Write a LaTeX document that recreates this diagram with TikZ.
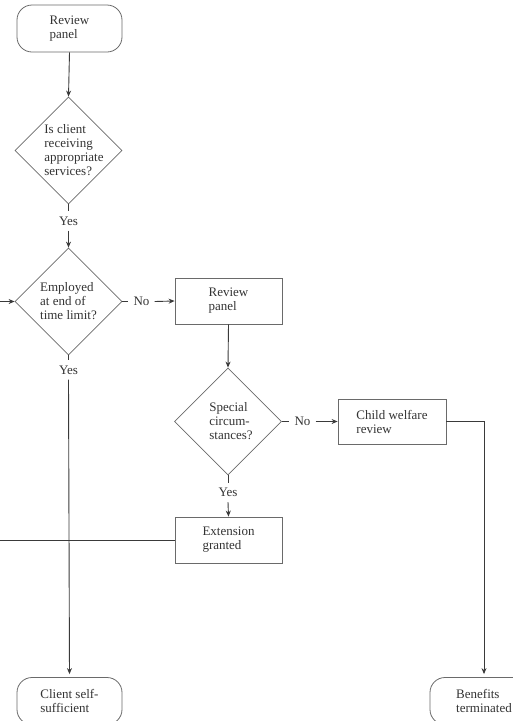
\documentclass[tikz,border=0pt]{standalone}
\usepackage{fontspec}
\setmainfont{Liberation Serif}
\usetikzlibrary{shapes.geometric,arrows.meta}
\definecolor{ln}{HTML}{6A6A6A}
\definecolor{ar}{HTML}{3A3A3A}
\definecolor{txt}{HTML}{333333}
\begin{document}
\begin{tikzpicture}[x=1pt,y=-1pt,
  every node/.style={font=\fontsize{13}{14}\selectfont, text=txt},
  term/.style={draw=ln, line width=0.8pt, rounded corners=15pt, minimum width=105pt, minimum height=47pt, align=left, inner sep=0pt},
  proc/.style={draw=ln, line width=0.8pt, minimum width=107pt, minimum height=46pt, align=left, inner sep=0pt},
  dia/.style={draw=ln, line width=0.8pt, diamond, minimum width=107pt, minimum height=107pt, inner sep=0pt},
  dtext/.style={align=left, inner sep=0pt},
  lbl/.style={inner xsep=5pt, inner ysep=5pt},
  arr/.style={draw=ar, line width=0.9pt, -{Stealth[length=6pt,width=5pt]}},
  con/.style={draw=ar, line width=0.9pt}]
\useasboundingbox (0,0) rectangle (513,721);
\clip (0,0) rectangle (513,721);
% nodes
\node[term] (rp1) at (69.5,28.5) {Review\\panel};
\node[dia] (d1) at (68.5,150.5) {};
\node[dtext] (d1t) at (74,150.5) {Is client\\receiving\\appropriate\\services?};
\node[lbl] (yes1) at (68.5,221) {Yes};
\node[dia] (d2) at (68.5,301.5) {};
\node[dtext] (d2t) at (68.5,301.5) {Employed\\at end of\\time limit?};
\node[lbl] (no1) at (141.5,301.5) {No};
\node[proc] (rp2) at (228.5,301) {Review\\panel};
\node[lbl] (yes2) at (68.5,370) {Yes};
\node[dia] (d3) at (228,421.5) {};
\node[dtext] (d3t) at (231,421) {Special\\circum-\\stances?};
\node[lbl] (no2) at (302.5,421.5) {No};
\node[proc, minimum width=108pt, minimum height=45pt] (cw) at (392,421.5) {Child welfare\\review};
\node[lbl] (yes3) at (228,492.5) {Yes};
\node[proc] (ext) at (228.5,540) {Extension\\granted};
\node[term] (css) at (69.5,701) {Client self-\\sufficient};
\node[term, minimum width=108pt] (bt) at (484,701) {Benefits\\terminated};
\coordinate (loop) at (-10,540);
% connectors
\draw[arr] (rp1.south) -- (d1.north);
\draw[con] (d1.south) -- (yes1.north);
\draw[arr] (yes1.south) -- (d2.north);
\draw[con] (d2.east) -- (no1.west);
\draw[arr] (no1.east) -- (rp2.west);
\draw[arr] (rp2.south) -- (d3.north);
\draw[con] (d2.south) -- (yes2.north);
\draw[arr, shorten >=3pt] (yes2.south) -- (css.north);
\draw[con] (d3.east) -- (no2.west);
\draw[arr] (no2.east) -- (cw.west);
\draw[con] (d3.south) -- (yes3.north);
\draw[arr] (yes3.south) -- (ext.north);
\draw[arr, shorten >=3pt] (cw.east) -| (bt.north);
\draw[arr] (ext.west) -- (loop) |- (d2.west);
\end{tikzpicture}
\end{document}
